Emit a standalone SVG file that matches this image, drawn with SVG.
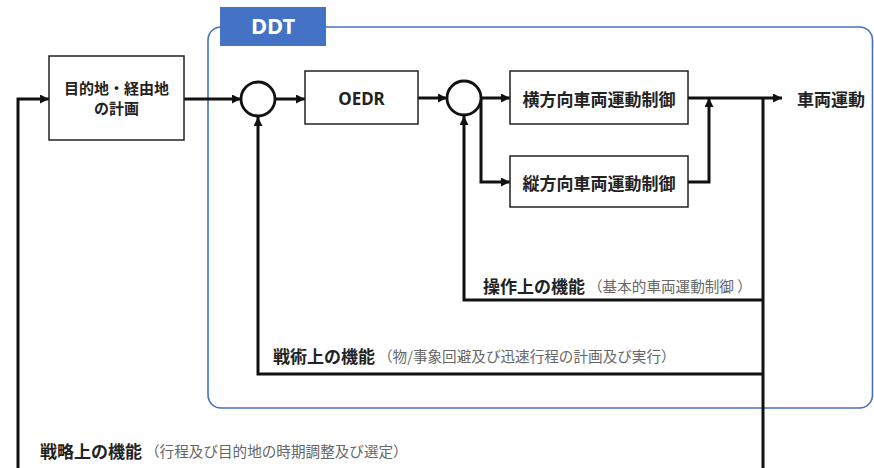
<svg xmlns="http://www.w3.org/2000/svg" width="874" height="468" viewBox="0 0 874 468">
<style>
.box{fill:#fff;stroke:#222;stroke-width:1.5}
.sum{fill:#fff;stroke:#111;stroke-width:2.8}
.ln{fill:none;stroke:#111;stroke-width:3}
.t{font-family:"Noto Sans CJK JP","Noto Sans",sans-serif;font-weight:bold;fill:#222;dominant-baseline:central}
.g{font-family:"Noto Sans CJK JP","Noto Sans",sans-serif;font-size:14.6px;fill:#666;dominant-baseline:central}
</style>
<defs>
<marker id="ar" viewBox="0 0 10 10" refX="10" refY="5" markerWidth="3" markerHeight="3" orient="auto" markerUnits="strokeWidth">
<path d="M0,0 L10,5 L0,10 Z" fill="#111"/>
</marker>
</defs>
<rect width="874" height="468" fill="#fff"/>
<g id="ddt">
<rect x="208" y="27" width="664.5" height="381" rx="13" fill="none" stroke="#4472C4" stroke-width="1.6"/>
<rect x="220" y="7" width="106" height="39" fill="#4472C4"/>
<text x="273" y="25" text-anchor="middle" style="font-family:'Noto Sans','Liberation Sans',sans-serif;font-weight:bold;font-size:22px;fill:#fff;dominant-baseline:central">DDT</text>
</g>
<g id="connectors">
<path class="ln" d="M184,99 H241" marker-end="url(#ar)"/>
<path class="ln" d="M275,99 H305" marker-end="url(#ar)"/>
<path class="ln" d="M418,98 H447" marker-end="url(#ar)"/>
<path class="ln" d="M481,98 H510" marker-end="url(#ar)"/>
<path class="ln" d="M481,98 V182 H510" marker-end="url(#ar)"/>
<path class="ln" d="M688,182 H709 V98" marker-end="url(#ar)"/>
<path class="ln" d="M688,98 H782" marker-end="url(#ar)"/>
<path class="ln" d="M763,98 V470"/>
<path class="ln" d="M763,300 H464 V116" marker-end="url(#ar)"/>
<path class="ln" d="M763,374 H258 V117" marker-end="url(#ar)"/>
<path class="ln" d="M18,470 V99 H49" marker-end="url(#ar)"/>
</g>
<g id="plan">
<rect class="box" x="49" y="56" width="135" height="84"/>
<text class="t" x="116.5" y="87" text-anchor="middle" font-size="15">目的地・経由地</text>
<text class="t" x="116.5" y="107" text-anchor="middle" font-size="15">の計画</text>
</g>
<g id="sum1"><circle class="sum" cx="258" cy="99" r="17"/></g>
<g id="oedr">
<rect class="box" x="305" y="71" width="113" height="53"/>
<text x="361.5" y="98" text-anchor="middle" style="font-family:'Noto Sans','Liberation Sans',sans-serif;font-weight:bold;font-size:17px;fill:#222;dominant-baseline:central">OEDR</text>
</g>
<g id="sum2"><circle class="sum" cx="464" cy="98" r="17"/></g>
<g id="lateral">
<rect class="box" x="510" y="71" width="178" height="53"/>
<text class="t" x="599" y="98" text-anchor="middle" font-size="17">横方向車両運動制御</text>
</g>
<g id="longitudinal">
<rect class="box" x="510" y="156" width="178" height="51"/>
<text class="t" x="599" y="182" text-anchor="middle" font-size="17">縦方向車両運動制御</text>
</g>
<g id="output">
<text class="t" x="797" y="98" font-size="17">車両運動</text>
</g>
<g id="labels">
<text x="483" y="285"><tspan class="t" font-size="17">操作上の機能</tspan><tspan class="g" dx="3">（基本的車両運動制御 ）</tspan></text>
<text x="273" y="355"><tspan class="t" font-size="17">戦術上の機能</tspan><tspan class="g" dx="3">（物/事象回避及び迅速行程の計画及び実行）</tspan></text>
<text x="40" y="450"><tspan class="t" font-size="17">戦略上の機能</tspan><tspan class="g" dx="3">（行程及び目的地の時期調整及び選定）</tspan></text>
</g>
</svg>
